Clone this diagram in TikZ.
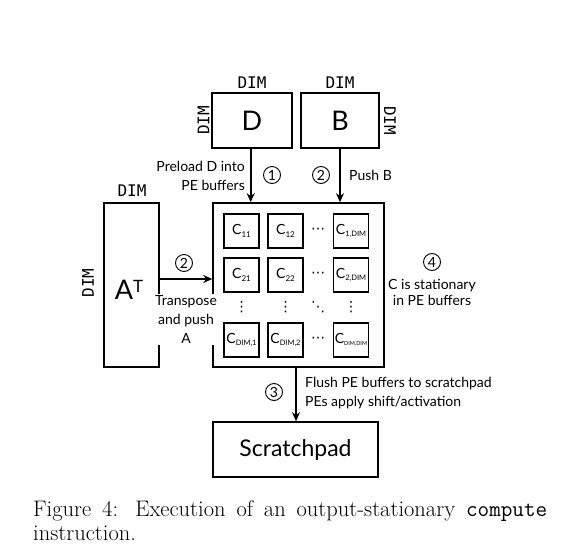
\documentclass[tikz,border=0pt]{standalone}
\usepackage{fontspec}
\setmainfont{Latin Modern Roman}
\newfontfamily\diagfont{Lato}
\newfontfamily\dimfont{DejaVu Sans Mono}
\newfontfamily\symfont{DejaVu Sans}
\usetikzlibrary{arrows.meta}
\newcommand{\csub}[2][8]{C\raisebox{-0.35ex}{\fontsize{#1}{#1}\selectfont #2}}
\tikzset{
  box/.style={draw, line width=1.6pt},
  cell/.style={draw, line width=1.1pt, minimum width=35pt, minimum height=34pt, inner sep=0pt, font=\diagfont\fontsize{14}{14}\selectfont},
  dimlbl/.style={font=\dimfont\fontsize{16}{16}\selectfont, inner sep=0pt},
  lbl/.style={font=\diagfont\fontsize{14}{19}\selectfont, inner sep=1pt},
  num/.style={circle, draw, line width=0.9pt, minimum size=17pt, inner sep=0pt, font=\diagfont\fontsize{14}{14}\selectfont},
  arr/.style={line width=1.6pt, -{Stealth[length=9pt,width=8pt]}},
  dotsl/.style={font=\symfont\fontsize{14}{14}\selectfont, inner sep=0pt}
}
\begin{document}
\begin{tikzpicture}[x=1pt,y=-1pt]
\useasboundingbox (0,0) rectangle (577,556);
% top boxes
\node[box, minimum width=80pt, minimum height=55pt, inner sep=0pt, font=\diagfont\fontsize{27}{27}\selectfont] (D) at (252,120.5) {D};
\node[box, minimum width=78pt, minimum height=55pt, inner sep=0pt, font=\diagfont\fontsize{27}{27}\selectfont] (B) at (340,120.5) {B};
\node[dimlbl] (dD) at (252,83) {DIM};
\node[dimlbl] (dB) at (340,83) {DIM};
\node[dimlbl, rotate=90] (dDl) at (203.5,120.5) {DIM};
\node[dimlbl, rotate=-90] (dBr) at (390,120.5) {DIM};
% A box
\node[box, minimum width=55pt, minimum height=164pt, inner sep=0pt] (A) at (131.5,285) {};
\node[font=\diagfont\fontsize{27}{27}\selectfont, inner sep=0pt] (AT) at (129,290) {A\raisebox{0.55ex}{\fontsize{17}{17}\selectfont T}};
\node[dimlbl] (dA) at (132,191) {DIM};
\node[dimlbl, rotate=90] (dAl) at (88,283) {DIM};
% matrix
\node[box, minimum width=171pt, minimum height=164pt, inner sep=0pt] (M) at (298.5,285) {};
\node[cell] (c11) at (241.5,231) {\csub{11}};
\node[cell] (c12) at (285.5,231) {\csub{12}};
\node[dotsl] (h1) at (318,231) {⋯};
\node[cell] (c1d) at (351,231) {\csub[7.5]{1,DIM}};
\node[cell] (c21) at (241.5,275) {\csub{21}};
\node[cell] (c22) at (285.5,275) {\csub{22}};
\node[dotsl] (h2) at (318,275) {⋯};
\node[cell] (c2d) at (351,275) {\csub[7.5]{2,DIM}};
\node[dotsl] (v1) at (241.5,307) {⋮};
\node[dotsl] (v2) at (285.5,307) {⋮};
\node[dotsl] (dd) at (318,307) {⋱};
\node[dotsl] (v4) at (351,307) {⋮};
\node[cell] (cd1) at (241.5,340) {\csub[7.5]{DIM,1}};
\node[cell] (cd2) at (285.5,340) {\csub[7.5]{DIM,2}};
\node[dotsl] (h4) at (318,340) {⋯};
\node[cell] (cdd) at (351,340) {\csub[5.5]{DIM,DIM}};
% Scratchpad
\node[box, minimum width=165pt, minimum height=55pt, inner sep=0pt, font=\diagfont\fontsize{23}{23}\selectfont] (S) at (295.5,449.5) {Scratchpad};
% arrows
\draw[arr] (D.south -| 250.7,0) -- (M.north -| 250.7,0);
\draw[arr] (B.south -| 340,0) -- (M.north -| 340,0);
\draw[arr] (A.east |- 0,279) -- (M.west |- 0,279);
\draw[arr] (M.south -| 296,0) -- (S.north -| 296,0);
% labels
\node[num] (n1) at (272,175) {1};
\node[num] (n2) at (321,175) {2};
\node[num] (n2a) at (184,263) {2};
\node[num] (n3) at (274,392) {3};
\node[num] (n4) at (432,262) {4};
\node[lbl, align=right, anchor=east] (pl) at (246,176) {Preload D into\\PE buffers};
\node[lbl, anchor=west] (pb) at (348,175) {Push B};
\node[lbl, align=center, fill=white, inner sep=1pt] (tp) at (186,319.5) {Transpose\\and push\\A};
\node[lbl, align=center, font=\diagfont\fontsize{14}{15.5}\selectfont] (cs) at (432,292.5) {C is stationary\\in PE buffers};
\node[lbl, align=left, anchor=west] (fl) at (304,393.5) {Flush PE buffers to scratchpad\\PEs apply shift/activation};
% caption
\node[anchor=base west, inner sep=0pt, font=\fontsize{22.5}{24}\selectfont, text width=514pt, align=justify] (cap) at (33,516) {Figure 4: Execution of an output-stationary \texttt{compute}\linebreak instruction.};
\end{tikzpicture}
\end{document}
